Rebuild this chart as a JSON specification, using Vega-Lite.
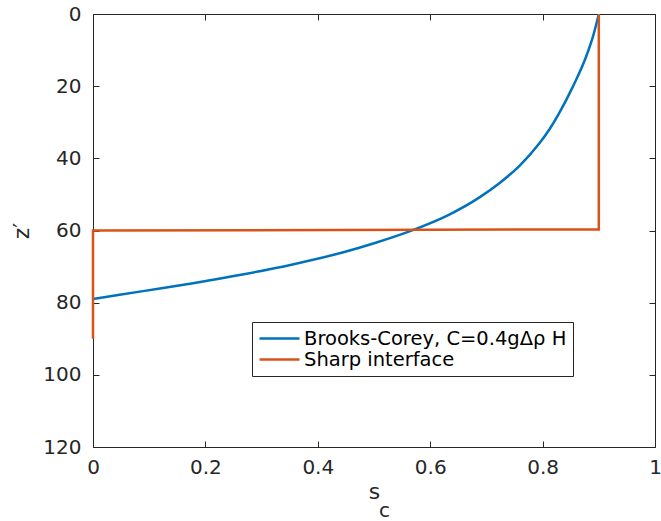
{
  "$schema": "https://vega.github.io/schema/vega-lite/v6.json",
  "width": 562,
  "height": 433,
  "autosize": {"type": "none"},
  "padding": {"left": 93, "top": 14, "right": 6, "bottom": 74},
  "background": "white",
  "config": {
    "view": {"stroke": null},
    "font": "DejaVu Sans",
    "axis": {
      "grid": false,
      "domainColor": "#262626",
      "domainWidth": 1,
      "tickColor": "#262626",
      "tickWidth": 1,
      "tickSize": -6,
      "labelFlush": false,
      "labelColor": "#262626",
      "labelFont": "DejaVu Sans",
      "labelFontSize": 20,
      "titleFont": "DejaVu Sans",
      "titleFontSize": 22,
      "titleFontWeight": "normal",
      "titleColor": "#262626"
    }
  },
  "data": {
    "values": [
      {"series": "Brooks-Corey, C=0.4gΔρ H", "s": 0.0, "z": 79.0},
      {"series": "Brooks-Corey, C=0.4gΔρ H", "s": 0.089, "z": 76.8},
      {"series": "Brooks-Corey, C=0.4gΔρ H", "s": 0.178, "z": 74.6},
      {"series": "Brooks-Corey, C=0.4gΔρ H", "s": 0.266, "z": 72.2},
      {"series": "Brooks-Corey, C=0.4gΔρ H", "s": 0.355, "z": 69.4},
      {"series": "Brooks-Corey, C=0.4gΔρ H", "s": 0.444, "z": 66.1},
      {"series": "Brooks-Corey, C=0.4gΔρ H", "s": 0.503, "z": 63.4},
      {"series": "Brooks-Corey, C=0.4gΔρ H", "s": 0.563, "z": 60.25},
      {"series": "Brooks-Corey, C=0.4gΔρ H", "s": 0.634, "z": 55.6},
      {"series": "Brooks-Corey, C=0.4gΔρ H", "s": 0.687, "z": 50.9},
      {"series": "Brooks-Corey, C=0.4gΔρ H", "s": 0.723, "z": 46.9},
      {"series": "Brooks-Corey, C=0.4gΔρ H", "s": 0.758, "z": 42.2},
      {"series": "Brooks-Corey, C=0.4gΔρ H", "s": 0.794, "z": 35.9},
      {"series": "Brooks-Corey, C=0.4gΔρ H", "s": 0.812, "z": 32.0},
      {"series": "Brooks-Corey, C=0.4gΔρ H", "s": 0.829, "z": 27.6},
      {"series": "Brooks-Corey, C=0.4gΔρ H", "s": 0.853, "z": 20.4},
      {"series": "Brooks-Corey, C=0.4gΔρ H", "s": 0.877, "z": 12.0},
      {"series": "Brooks-Corey, C=0.4gΔρ H", "s": 0.891, "z": 5.5},
      {"series": "Brooks-Corey, C=0.4gΔρ H", "s": 0.9, "z": 0.0},
      {"series": "Sharp interface", "s": 0.0, "z": 90.0, "o": 1},
      {"series": "Sharp interface", "s": 0.0, "z": 60.0, "o": 2},
      {"series": "Sharp interface", "s": 0.9, "z": 59.7, "o": 3},
      {"series": "Sharp interface", "s": 0.9, "z": 0.0, "o": 4}
    ]
  },
  "layer": [
    {
      "transform": [{"filter": "datum.series !== 'Sharp interface'"}],
      "mark": {"type": "line", "interpolate": "monotone", "strokeWidth": 2.5, "clip": true},
      "encoding": {
        "x": {"field": "s", "type": "quantitative", "scale": {"domain": [0, 1], "nice": false},
              "axis": {"orient": "bottom", "title": "s", "values": [0, 0.2, 0.4, 0.6, 0.8, 1], "labelPadding": 16, "titlePadding": 4, "labelExpr": "datum.value == 0 ? '0' : datum.value == 1 ? '1' : format(datum.value, '.1f')"}},
        "y": {"field": "z", "type": "quantitative", "scale": {"domain": [0, 120], "reverse": true, "nice": false},
              "axis": {"orient": "left", "title": "z′", "values": [0, 20, 40, 60, 80, 100, 120], "labelPadding": 18, "titlePadding": 9}},
        "color": {"field": "series", "type": "nominal",
                  "scale": {"domain": ["Brooks-Corey, C=0.4gΔρ H", "Sharp interface"], "range": ["#0072BD", "#D95319"]},
                  "legend": {
                    "orient": "none", "legendX": 159, "legendY": 308, "title": null,
                    "symbolType": "stroke", "symbolSize": 1600, "symbolStrokeWidth": 2.5,
                    "labelFontSize": 19.5, "labelFont": "DejaVu Sans", "labelColor": "#000000", "labelOffset": 3, "labelLimit": 0,
                    "clipHeight": 21,
                    "strokeColor": "#262626", "fillColor": "white", "padding": 6, "rowPadding": 0
                  }},
        "order": {"field": "s", "type": "quantitative"}
      }
    },
    {
      "transform": [{"filter": "datum.series === 'Sharp interface'"}],
      "mark": {"type": "line", "strokeWidth": 2.5, "clip": false},
      "encoding": {
        "x": {"field": "s", "type": "quantitative",
              "axis": {"orient": "top", "title": "c", "labels": false, "values": [0, 0.2, 0.4, 0.6, 0.8, 1], "titleFontSize": 20, "titleX": 291, "titleY": 502, "titleBaseline": "alphabetic"}},
        "y": {"field": "z", "type": "quantitative",
              "axis": {"orient": "right", "title": null, "labels": false, "values": [0, 20, 40, 60, 80, 100, 120]}},
        "color": {"field": "series", "type": "nominal"},
        "order": {"field": "o", "type": "quantitative"}
      }
    }
  ],
  "resolve": {"axis": {"x": "independent", "y": "independent"}}
}
